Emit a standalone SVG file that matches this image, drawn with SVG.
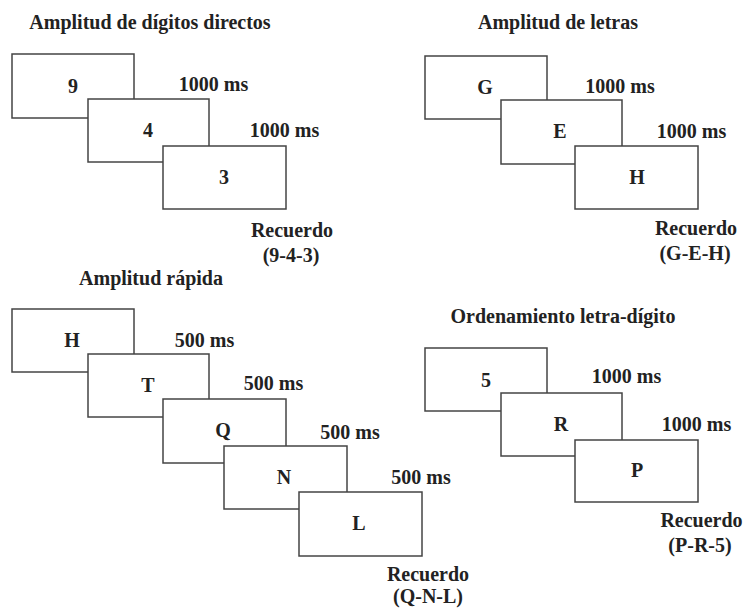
<svg xmlns="http://www.w3.org/2000/svg" width="745" height="608" viewBox="0 0 745 608">
<style>
text{font-family:"Liberation Serif","Times New Roman",serif;font-size:20px;font-weight:bold;fill:#222;text-anchor:middle}
rect{fill:#fff;stroke:#444;stroke-width:1.5}
</style>
<rect x="0" y="0" width="745" height="608" style="stroke:none"/>
<g id="panel-digitos">
<text id="title-digitos" x="150" y="29">Amplitud de dígitos directos</text>
<g id="d9"><rect x="12" y="54" width="122" height="64"/><text x="73" y="93">9</text></g>
<text x="213.5" y="91">1000 ms</text>
<g id="d4"><rect x="88" y="99" width="121" height="63"/><text x="148" y="137">4</text></g>
<text x="284.5" y="137">1000 ms</text>
<g id="d3"><rect x="163" y="146" width="123" height="63"/><text x="224" y="184">3</text></g>
<text x="292" y="237">Recuerdo</text>
<text x="291" y="262">(9-4-3)</text>
</g>
<g id="panel-letras">
<text id="title-letras" x="558" y="29">Amplitud de letras</text>
<g id="lG"><rect x="425" y="56" width="122" height="63"/><text x="485" y="94">G</text></g>
<text x="620" y="93">1000 ms</text>
<g id="lE"><rect x="501" y="100" width="121" height="64"/><text x="560" y="138">E</text></g>
<text x="691.5" y="138">1000 ms</text>
<g id="lH"><rect x="575" y="146" width="123" height="63"/><text x="637" y="184">H</text></g>
<text x="696" y="235">Recuerdo</text>
<text x="695" y="260">(G-E-H)</text>
</g>
<g id="panel-rapida">
<text id="title-rapida" x="151" y="285">Amplitud rápida</text>
<g id="rH"><rect x="12" y="309" width="122" height="63"/><text x="72" y="347">H</text></g>
<text x="204.5" y="347">500 ms</text>
<g id="rT"><rect x="88" y="354" width="121" height="63"/><text x="148" y="392">T</text></g>
<text x="273.5" y="390">500 ms</text>
<g id="rQ"><rect x="163" y="399" width="123" height="64"/><text x="223" y="437">Q</text></g>
<text x="350" y="439">500 ms</text>
<g id="rN"><rect x="224" y="446" width="123" height="63"/><text x="284" y="484">N</text></g>
<text x="421" y="484">500 ms</text>
<g id="rL"><rect x="299" y="492" width="123" height="64"/><text x="359" y="530">L</text></g>
<text x="428" y="581">Recuerdo</text>
<text x="428" y="603">(Q-N-L)</text>
</g>
<g id="panel-ordenamiento">
<text id="title-ordenamiento" x="563" y="323">Ordenamiento letra-dígito</text>
<g id="o5"><rect x="425" y="348" width="122" height="63"/><text x="486" y="387">5</text></g>
<text x="626.5" y="383">1000 ms</text>
<g id="oR"><rect x="501" y="393" width="121" height="63"/><text x="561" y="431">R</text></g>
<text x="696.5" y="431">1000 ms</text>
<g id="oP"><rect x="575" y="440" width="123" height="62"/><text x="637" y="477">P</text></g>
<text x="701.5" y="527">Recuerdo</text>
<text x="700" y="552">(P-R-5)</text>
</g>
<g id="connectors"/>
</svg>
